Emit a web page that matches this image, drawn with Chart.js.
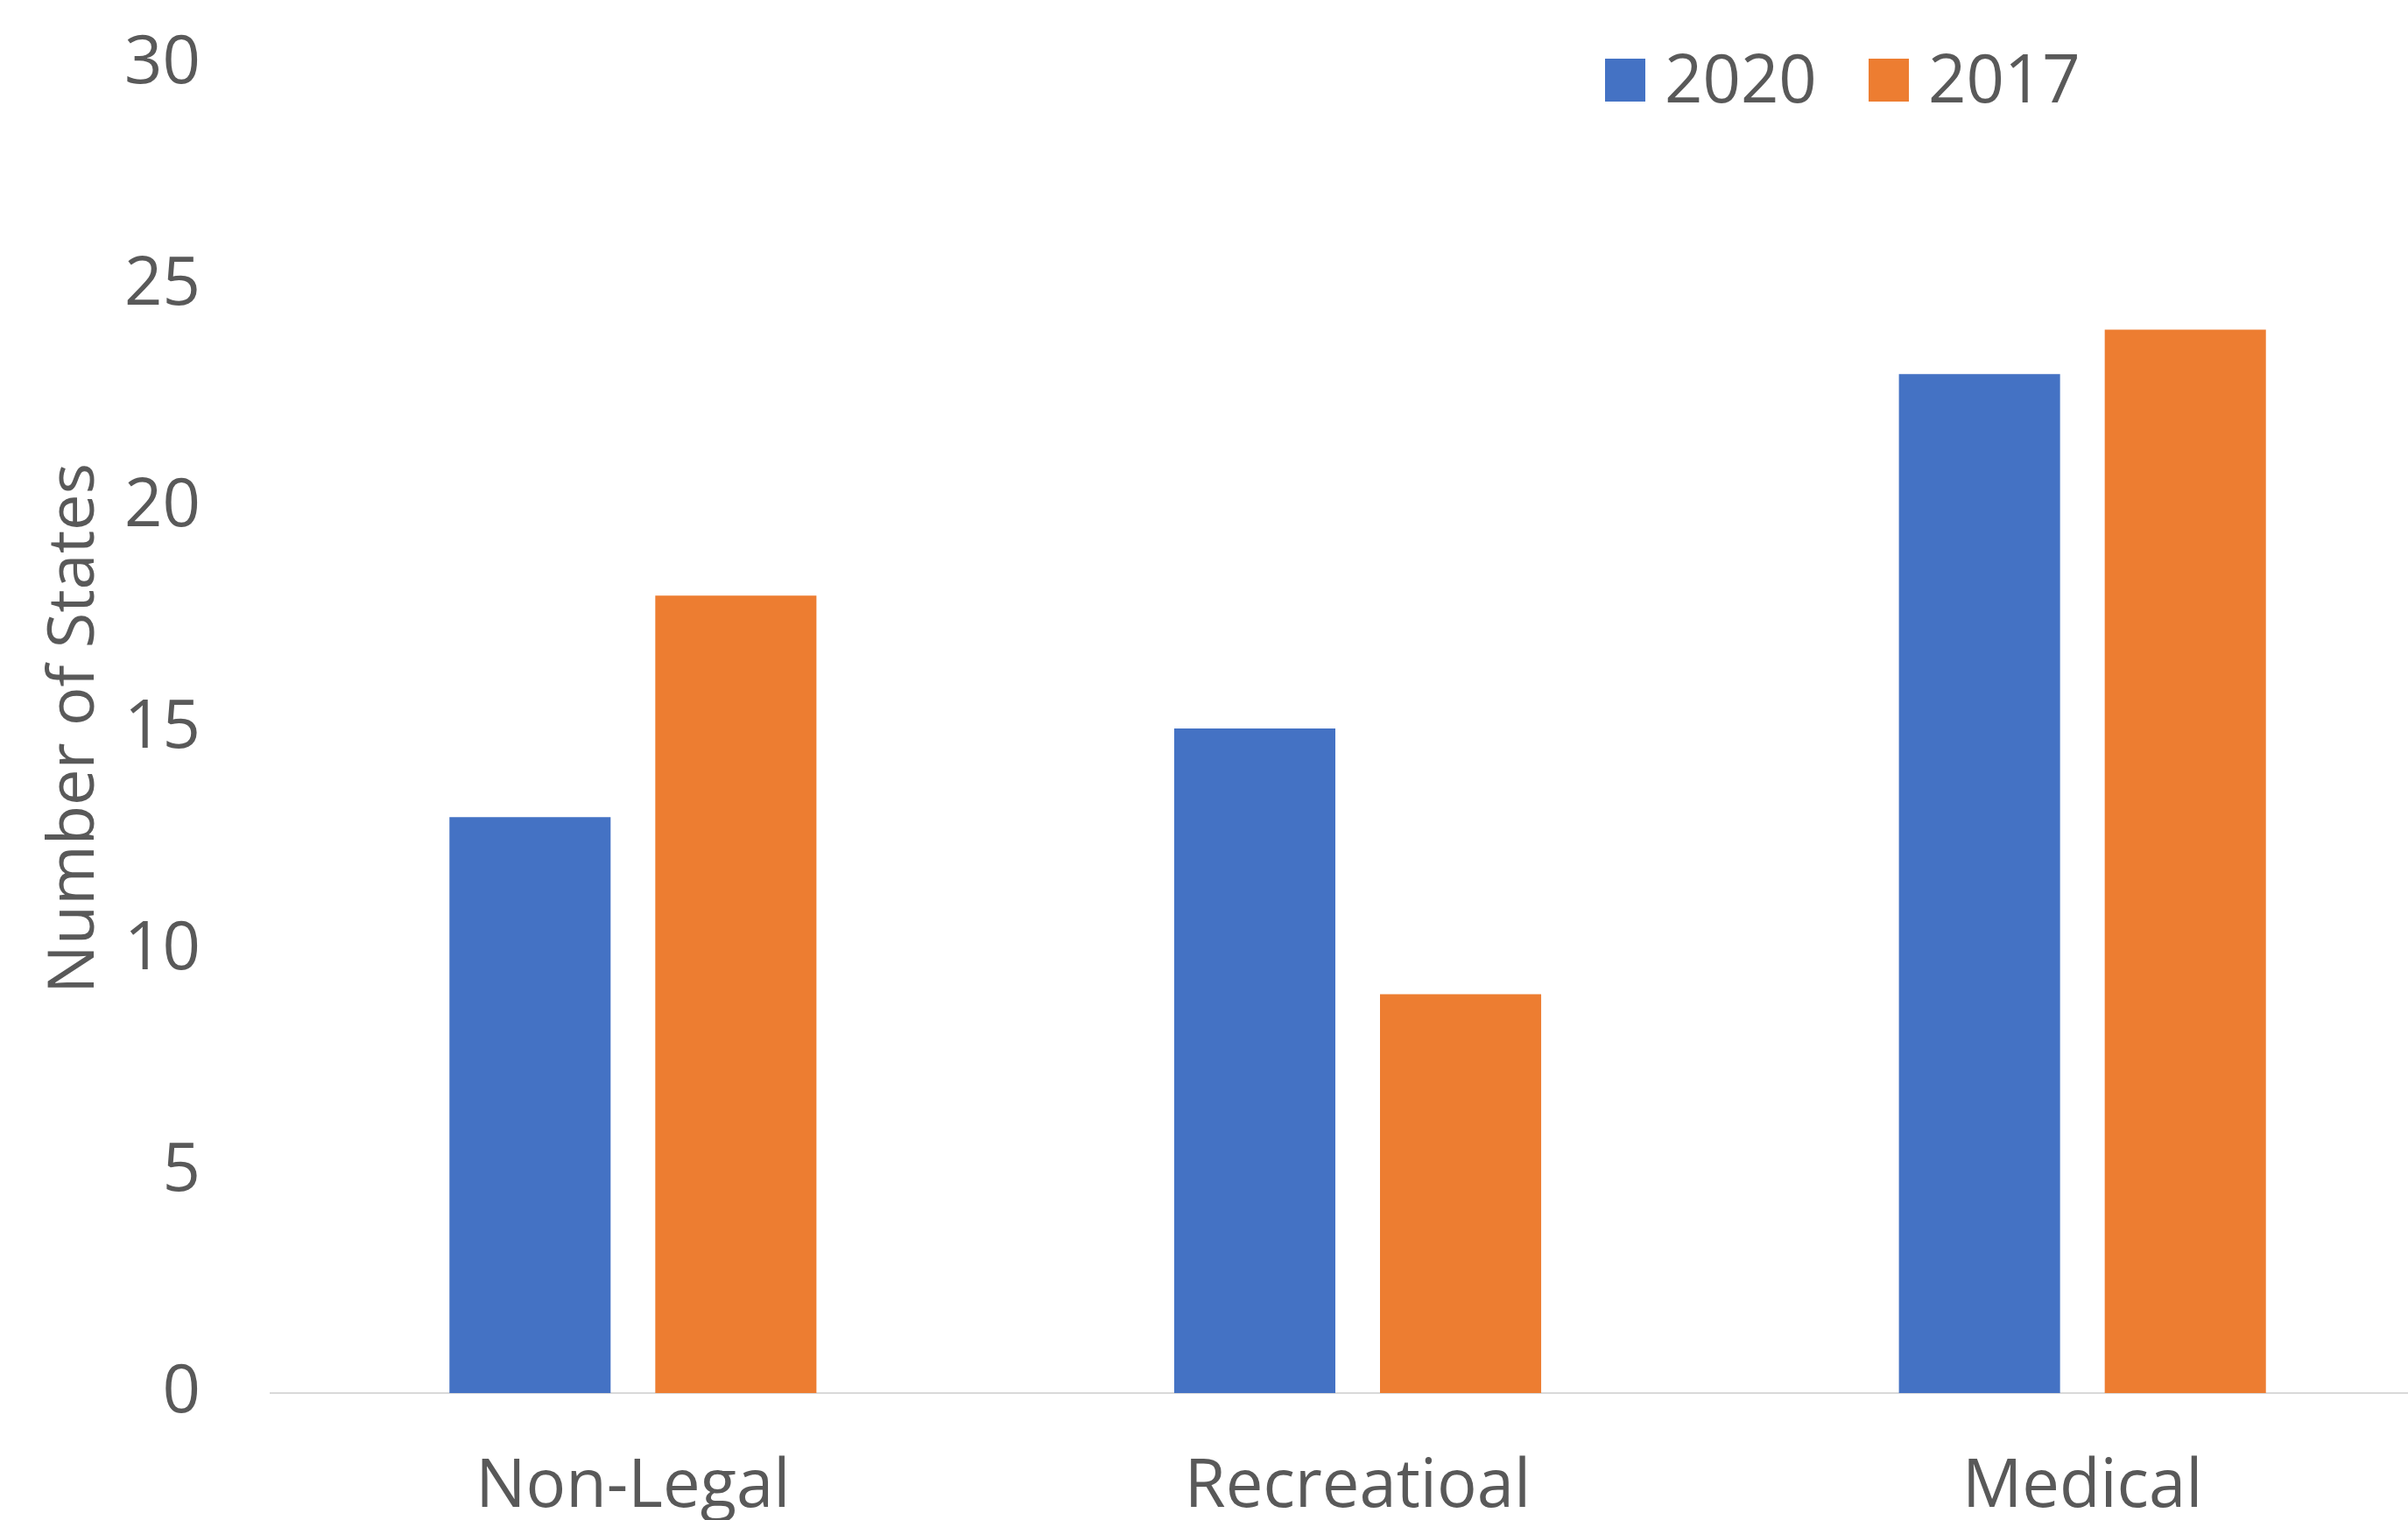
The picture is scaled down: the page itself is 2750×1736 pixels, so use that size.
<!DOCTYPE html>
<html>
<head>
<meta charset="utf-8">
<script src="https://cdn.jsdelivr.net/npm/chart.js@4"></script>
<style>
  html, body { margin: 0; padding: 0; overflow: hidden; background: #fff; }
</style>
</head>
<body>
<canvas id="stateChart" width="2792" height="1736"></canvas>
<script>
const categories = ['Non-Legal', 'Recreatioal', 'Medical'];
const seriesNames = ['2020', '2017'];
const values2020 = [13, 15, 23];
const values2017 = [18, 9, 24];
const yTicks = [0, 5, 10, 15, 20, 25, 30];

const seriesColors = ['#4472C4', '#ED7D31'];
const textColor = '#595959';
const fontFamily = "'Open Sans', 'Noto Sans', sans-serif";

// legend drawn by hand so it sits where the original has it
const legendBoxes = {
    id: 'legendBoxes',
    afterDraw(chart) {
        const ctx = chart.ctx;
        const xs = [1833, 2134];
        ctx.save();
        ctx.font = '76px ' + fontFamily;
        ctx.textBaseline = 'alphabetic';
        ctx.textAlign = 'left';
        chart.data.datasets.forEach((ds, i) => {
            ctx.fillStyle = ds.backgroundColor;
            ctx.fillRect(xs[i], 67, 46, 49);
            ctx.fillStyle = textColor;
            ctx.fillText(ds.label, xs[i] + 68, 117);
        });
        ctx.restore();
    }
};

const ctx = document.getElementById('stateChart').getContext('2d');
const stateChart = new Chart(ctx, {
    type: 'bar',
    data: {
        labels: categories,
        datasets: [
            { label: seriesNames[0], data: values2020, backgroundColor: seriesColors[0] },
            { label: seriesNames[1], data: values2017, backgroundColor: seriesColors[1] }
        ]
    },
    options: {
        responsive: false,
        animation: false,
        devicePixelRatio: 1,
        layout: { padding: { top: 73, left: 0, right: 0, bottom: 0 } },
        datasets: {
            bar: { categoryPercentage: 0.568, barPercentage: 0.783 }
        },
        plugins: {
            legend: { display: false },
            tooltip: { enabled: false }
        },
        scales: {
            x: {
                grid: { display: false },
                border: { display: true, color: '#d9d9d9', width: 2 },
                ticks: {
                    color: textColor,
                    font: { family: fontFamily, size: 76 },
                    padding: 55,
                    maxRotation: 0
                },
                afterFit: (scale) => { scale.height = 145; }
            },
            y: {
                min: 0,
                max: 30,
                afterBuildTicks: (scale) => { scale.ticks = yTicks.map(v => ({ value: v })); },
                grid: { display: false, drawTicks: false },
                border: { display: false },
                ticks: {
                    color: textColor,
                    font: { family: fontFamily, size: 76 },
                    padding: 80
                },
                title: {
                    display: true,
                    text: 'Number of States',
                    color: textColor,
                    font: { family: fontFamily, size: 74 },
                    padding: { top: 42, bottom: 0 }
                },
                afterFit: (scale) => {
                    scale.width = 309;
                    scale.paddingTop = 0;
                    scale.paddingBottom = 0;
                }
            }
        }
    },
    plugins: [legendBoxes]
});
</script>
</body>
</html>
